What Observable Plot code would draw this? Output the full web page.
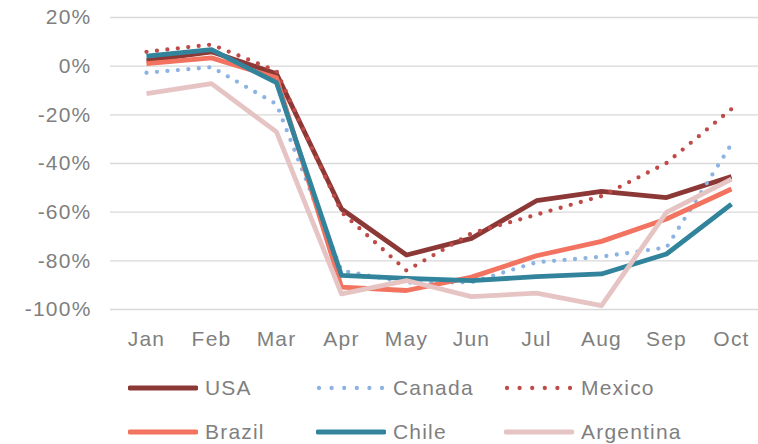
<!DOCTYPE html>
<html><head><meta charset="utf-8">
<script src="https://cdn.jsdelivr.net/npm/d3@7"></script>
<script src="https://cdn.jsdelivr.net/npm/@observablehq/plot@0.6"></script>
<style>
body{margin:0;background:#fff;font-family:"Liberation Sans",Arial,sans-serif;}
#chart svg text{letter-spacing:1.2px;}
#legend{display:grid;grid-template-columns:188px 188px 220px;row-gap:18px;margin-left:128px;margin-top:15px;color:#7f7f7f;font-size:21px;letter-spacing:1.2px;}
.item{display:flex;align-items:center;height:26px;white-space:nowrap;}
.item svg{margin-right:7px;}
</style></head><body><div id="chart"></div><div id="legend"></div>
<script>
const months = ["Jan","Feb","Mar","Apr","May","Jun","Jul","Aug","Sep","Oct"];
const countries = ["USA","Canada","Mexico","Brazil","Chile","Argentina"];
const usa       = [2.3, 5.9, -3.1, -58.7, -77.6, -70.8, -55.3, -51.5, -54.0, -45.4];
const canada    = [-2.7, -0.4, -15.6, -84.0, -89.0, -88.8, -80.6, -78.3, -74.5, -32.0];
const mexico    = [5.9, 8.9, -2.0, -60.0, -84.0, -68.7, -61.0, -53.4, -39.8, -17.6];
const brazil    = [1.0, 3.4, -4.8, -90.8, -92.2, -86.7, -77.9, -72.0, -62.8, -50.5];
const chile     = [4.1, 6.8, -6.8, -86.0, -87.2, -88.1, -86.5, -85.4, -77.2, -56.7];
const argentina = [-11.3, -7.2, -27.0, -93.6, -88.1, -94.7, -93.3, -98.4, -60.1, -46.4];
const yTicks = [20, 0, -20, -40, -60, -80, -100];

const seriesValues = [usa, canada, mexico, brazil, chile, argentina];
const colors = ["#8c3836", "#8db3e2", "#be4b48", "#f2735f", "#31849b", "#e6c4c4"];
const dotted = [false, true, true, false, false, false];

const lines = countries.map((c, i) => {
  const data = months.map((m, j) => ({month: m, value: seriesValues[i][j]}));
  return Plot.line(data, {
    x: "month", y: "value", stroke: colors[i],
    strokeWidth: dotted[i] ? 4.3 : 4.8,
    strokeLinejoin: "round",
    strokeLinecap: dotted[i] ? "round" : "butt",
    strokeDasharray: dotted[i] ? "0 10.5" : null
  });
});

const chart = Plot.plot({
  width: 758, height: 360,
  marginLeft: 142, marginRight: 23, marginTop: 17, marginBottom: 51,
  style: {fontFamily: '"Liberation Sans", Arial, sans-serif', fontSize: "21px", color: "#7f7f7f", background: "#fff"},
  x: {type: "point", domain: months, padding: 0, label: null},
  y: {domain: [-100, 20], label: null},
  marks: [
    Plot.ruleY(yTicks, {stroke: "#d9d9d9", strokeWidth: 1.4, insetLeft: -32, insetRight: -23}),
    Plot.axisY(yTicks, {tickSize: 0, tickPadding: 51, tickFormat: d => d + "%", label: null}),
    Plot.axisX({tickSize: 0, tickPadding: 22, label: null}),
    ...lines
  ]
});
document.getElementById("chart").append(chart);

const legend = document.getElementById("legend");
countries.forEach((c, i) => {
  const div = document.createElement("div");
  div.className = "item";
  const dash = dotted[i] ? 'stroke-dasharray="0 12.6" stroke-linecap="round"' : 'stroke-linecap="round"';
  const x1 = dotted[i] ? 3 : 2;
  div.innerHTML = `<svg width="70" height="12"><line x1="${x1}" x2="68" y1="6" y2="6" stroke="${colors[i]}" stroke-width="${dotted[i] ? 4.3 : 5}" ${dash}/></svg><span>${c}</span>`;
  legend.append(div);
});
</script>
</body></html>
